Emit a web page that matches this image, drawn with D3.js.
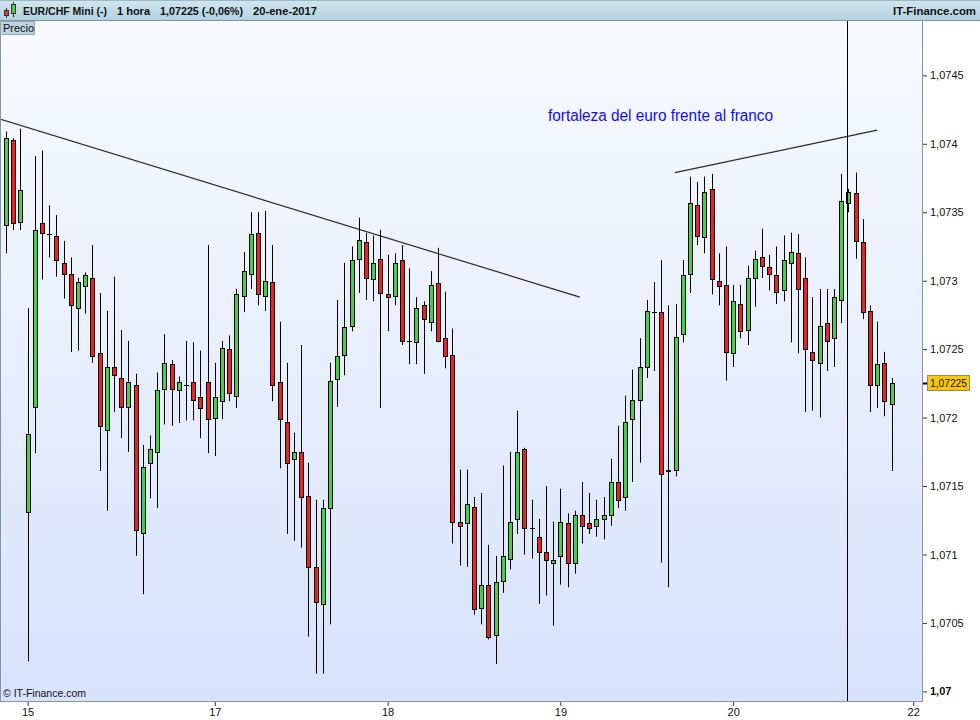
<!DOCTYPE html>
<html><head><meta charset="utf-8">
<script src="https://cdn.jsdelivr.net/npm/d3@7"></script>
<style>html,body{margin:0;padding:0;background:#fff}svg{display:block}text{font-family:"Liberation Sans",Arial,sans-serif}</style>
</head><body><svg id="c" width="980" height="720"></svg>
<script>
const open=[1.07341,1.07403,1.07343,1.07131,1.07208,1.07342,1.07334,1.07333,1.07313,1.07305,1.07280,1.07296,1.07302,1.07247,1.07191,1.07237,1.07229,1.07208,1.07224,1.07116,1.07167,1.07175,1.07221,1.07239,1.07220,1.07224,1.07226,1.07215,1.07226,1.07200,1.07212,1.07250,1.07216,1.07289,1.07305,1.07335,1.07289,1.07299,1.07226,1.07197,1.07170,1.07175,1.07143,1.07091,1.07064,1.07134,1.07228,1.07246,1.07267,1.07316,1.07328,1.07301,1.07316,1.07290,1.07289,1.07315,1.07256,1.07255,1.07282,1.07270,1.07298,1.07258,1.07246,1.07124,1.07123,1.07135,1.07061,1.07078,1.07041,1.07081,1.07097,1.07126,1.07177,1.07119,1.07113,1.07102,1.07094,1.07099,1.07123,1.07094,1.07129,1.07123,1.07121,1.07126,1.07129,1.07153,1.07142,1.07199,1.07213,1.07237,1.07277,1.07277,1.07161,1.07162,1.07261,1.07305,1.07355,1.07332,1.07367,1.07300,1.07297,1.07247,1.07283,1.07264,1.07302,1.07317,1.07310,1.07304,1.07293,1.07313,1.07320,1.07302,1.07248,1.07240,1.07269,1.07258,1.07286,1.07357,1.07364,1.07328,1.07278,1.07224,1.07240,1.07210];
const high=[1.07409,1.07404,1.07411,1.07280,1.07391,1.07395,1.07355,1.07348,1.07329,1.07317,1.07302,1.07306,1.07326,1.07291,1.07278,1.07303,1.07264,1.07256,1.07232,1.07180,1.07187,1.07233,1.07261,1.07242,1.07230,1.07256,1.07255,1.07249,1.07326,1.07240,1.07256,1.07260,1.07294,1.07321,1.07350,1.07350,1.07351,1.07326,1.07270,1.07240,1.07189,1.07253,1.07167,1.07140,1.07140,1.07240,1.07286,1.07313,1.07325,1.07346,1.07335,1.07333,1.07337,1.07319,1.07320,1.07326,1.07309,1.07288,1.07285,1.07307,1.07324,1.07292,1.07265,1.07162,1.07162,1.07142,1.07145,1.07107,1.07099,1.07165,1.07175,1.07205,1.07178,1.07140,1.07126,1.07150,1.07124,1.07148,1.07130,1.07132,1.07153,1.07145,1.07140,1.07142,1.07170,1.07194,1.07216,1.07235,1.07258,1.07286,1.07299,1.07315,1.07282,1.07283,1.07315,1.07376,1.07372,1.07376,1.07378,1.07320,1.07325,1.07297,1.07297,1.07311,1.07322,1.07338,1.07319,1.07325,1.07333,1.07335,1.07334,1.07317,1.07288,1.07294,1.07294,1.07294,1.07378,1.07367,1.07379,1.07345,1.07282,1.07270,1.07248,1.07229];
const low=[1.07320,1.07337,1.07337,1.07022,1.07174,1.07301,1.07317,1.07303,1.07287,1.07248,1.07249,1.07276,1.07240,1.07161,1.07132,1.07204,1.07185,1.07175,1.07099,1.07071,1.07141,1.07134,1.07195,1.07194,1.07196,1.07198,1.07198,1.07185,1.07174,1.07172,1.07199,1.07212,1.07207,1.07277,1.07294,1.07282,1.07278,1.07212,1.07163,1.07115,1.07110,1.07105,1.07040,1.07013,1.07013,1.07049,1.07208,1.07231,1.07263,1.07291,1.07286,1.07285,1.07207,1.07263,1.07282,1.07253,1.07239,1.07239,1.07232,1.07263,1.07255,1.07236,1.07108,1.07092,1.07091,1.07056,1.07049,1.07038,1.07020,1.07072,1.07089,1.07115,1.07100,1.07097,1.07064,1.07070,1.07048,1.07078,1.07076,1.07086,1.07108,1.07115,1.07113,1.07111,1.07121,1.07134,1.07132,1.07153,1.07167,1.07229,1.07234,1.07094,1.07076,1.07157,1.07255,1.07291,1.07326,1.07320,1.07290,1.07282,1.07227,1.07237,1.07258,1.07253,1.07281,1.07302,1.07293,1.07283,1.07285,1.07255,1.07247,1.07204,1.07205,1.07200,1.07234,1.07237,1.07269,1.07350,1.07316,1.07272,1.07204,1.07207,1.07201,1.07161];
const close=[1.07404,1.07342,1.07366,1.07188,1.07337,1.07335,1.07334,1.07315,1.07305,1.07282,1.07299,1.07304,1.07245,1.07194,1.07237,1.07231,1.07208,1.07226,1.07118,1.07164,1.07177,1.07220,1.07240,1.07221,1.07226,1.07224,1.07213,1.07207,1.07199,1.07215,1.07251,1.07218,1.07290,1.07307,1.07334,1.07290,1.07300,1.07224,1.07199,1.07167,1.07175,1.07142,1.07091,1.07065,1.07134,1.07227,1.07245,1.07266,1.07315,1.07330,1.07302,1.07313,1.07291,1.07288,1.07313,1.07256,1.07256,1.07280,1.07272,1.07297,1.07256,1.07245,1.07124,1.07121,1.07137,1.07060,1.07078,1.07040,1.07080,1.07099,1.07124,1.07175,1.07119,1.07119,1.07102,1.07096,1.07096,1.07124,1.07094,1.07129,1.07121,1.07119,1.07126,1.07129,1.07153,1.07140,1.07197,1.07213,1.07237,1.07278,1.07277,1.07159,1.07162,1.07259,1.07304,1.07357,1.07333,1.07365,1.07301,1.07296,1.07248,1.07285,1.07263,1.07302,1.07316,1.07311,1.07305,1.07292,1.07315,1.07321,1.07294,1.07250,1.07242,1.07267,1.07256,1.07288,1.07358,1.07365,1.07329,1.07277,1.07224,1.07239,1.07212,1.07225];
const dayTickIndex=[4,30,54,78,102,127];
const dayTickLabels=["15","17","18","19","20","22"];
const yTicks=[1.07,1.0705,1.071,1.0715,1.072,1.0725,1.073,1.0735,1.074,1.0745];
const trend1=[[0.17,1.07418],[80.7,1.07288]];
const trend2=[[93.9,1.07379],[122,1.07410]];
const markerIndex=118;
const lastPrice=1.07225;
const annotation="fortaleza del euro frente al franco";
const headerParts=[["EUR/CHF Mini (-)",23,84],["1 hora",117,33],["1,07225 (-0,06%)",160,83],["20-ene-2017",253,64]];

const svg=d3.select("#c");
const L=0,R=922,T=21,B=701;
const x=d3.scaleLinear().domain([1,124]).range([6,891.6]);
const y=d3.scaleLinear().domain([1.07,1.0745]).range([691.4,75.35]);
const fmt=v=>d3.format(".5~f")(v).replace(".",",");

const defs=svg.append("defs");
const g1=defs.append("linearGradient").attr("id","bg").attr("x1",0).attr("y1",0).attr("x2",0).attr("y2",1);
g1.append("stop").attr("offset","0").attr("stop-color","#f8faff");
g1.append("stop").attr("offset","1").attr("stop-color","#d7e3fb");
const g2=defs.append("linearGradient").attr("id","hd").attr("x1",0).attr("y1",0).attr("x2",0).attr("y2",1);
g2.append("stop").attr("offset","0").attr("stop-color","#d3e6ef");
g2.append("stop").attr("offset","1").attr("stop-color","#b2d1e0");
defs.append("clipPath").attr("id","clip").append("rect").attr("x",L+1).attr("y",T).attr("width",R-L-1).attr("height",B-T);

// header
svg.append("rect").attr("x",0).attr("y",0).attr("width",980).attr("height",20).attr("fill","url(#hd)");
svg.append("line").attr("x1",0).attr("x2",980).attr("y1",20.5).attr("y2",20.5).attr("stroke","#7d97a6");
svg.append("line").attr("x1",0).attr("x2",980).attr("y1",0.5).attr("y2",0.5).attr("stroke","#9fb8c5");
// icon
svg.append("line").attr("x1",6.5).attr("x2",6.5).attr("y1",8).attr("y2",18).attr("stroke","#333");
svg.append("rect").attr("x",4.5).attr("y",10.5).attr("width",4).attr("height",5).attr("fill","#f03030").attr("stroke","#333");
svg.append("line").attr("x1",13.5).attr("x2",13.5).attr("y1",2).attr("y2",17).attr("stroke","#333");
svg.append("rect").attr("x",11.5).attr("y",4.5).attr("width",4).attr("height",9).attr("fill","#44d044").attr("stroke","#333");
headerParts.forEach(([t,px,w])=>svg.append("text").attr("x",px).attr("y",15).attr("font-size",11.5).attr("font-weight","bold")
  .attr("fill","#111").attr("textLength",w).attr("lengthAdjust","spacingAndGlyphs").text(t));
svg.append("text").attr("x",893).attr("y",15).attr("font-size",11.5).attr("font-weight","bold").attr("fill","#111")
  .attr("textLength",83).attr("lengthAdjust","spacingAndGlyphs").text("IT-Finance.com");

// plot bg
svg.append("rect").attr("x",L).attr("y",T).attr("width",R-L).attr("height",B-T).attr("fill","url(#bg)");
const plot=svg.append("g").attr("clip-path","url(#clip)");

// trendlines
[trend1,trend2].forEach(tl=>plot.append("line")
  .attr("x1",x(tl[0][0])).attr("y1",y(tl[0][1])).attr("x2",x(tl[1][0])).attr("y2",y(tl[1][1]))
  .attr("stroke","#2a2a2a").attr("stroke-width",1.2));

// candles
const data=open.map((o,i)=>({i:i+1,o,h:high[i],l:low[i],c:close[i]}));
const cg=plot.selectAll("g.k").data(data).join("g").attr("class","k");
cg.append("line")
  .attr("x1",d=>Math.round(x(d.i))+0.5).attr("x2",d=>Math.round(x(d.i))+0.5)
  .attr("y1",d=>y(d.h)).attr("y2",d=>y(d.l)).attr("stroke","#000").attr("stroke-width",1);
cg.filter(d=>d.o!==d.c).append("rect")
  .attr("x",d=>Math.round(x(d.i))-1.5).attr("width",4)
  .attr("y",d=>Math.round(y(Math.max(d.o,d.c)))+0.5)
  .attr("height",d=>Math.max(1,Math.round(y(Math.min(d.o,d.c)))-Math.round(y(Math.max(d.o,d.c)))))
  .attr("fill",d=>d.c>d.o?"#46d046":"#f02020").attr("stroke","#000").attr("stroke-width",1);
cg.filter(d=>d.o===d.c).append("line")
  .attr("x1",d=>Math.round(x(d.i))-2).attr("x2",d=>Math.round(x(d.i))+3)
  .attr("y1",d=>Math.round(y(d.o))+0.5).attr("y2",d=>Math.round(y(d.o))+0.5)
  .attr("stroke","#000").attr("stroke-width",1);

// vertical marker
plot.append("line").attr("x1",Math.round(x(markerIndex))-0.5).attr("x2",Math.round(x(markerIndex))-0.5)
  .attr("y1",T).attr("y2",B).attr("stroke","#000").attr("stroke-width",1);

// annotation
svg.append("text").attr("x",548).attr("y",121).attr("font-size",16).attr("fill","#1010ee")
  .attr("textLength",225).attr("lengthAdjust","spacingAndGlyphs").text(annotation);

// borders
svg.append("line").attr("x1",0.5).attr("x2",0.5).attr("y1",T).attr("y2",B).attr("stroke","#7f97a6");
svg.append("line").attr("x1",R+0.5).attr("x2",R+0.5).attr("y1",T).attr("y2",B+1).attr("stroke","#7f97a6");
svg.append("line").attr("x1",0).attr("x2",R+1).attr("y1",B+0.5).attr("y2",B+0.5).attr("stroke","#7f97a6");

// Precio box
svg.append("rect").attr("x",0.5).attr("y",21.5).attr("width",34).attr("height",13).attr("fill","#bcd3e1").attr("stroke","#8fa6b3");
svg.append("text").attr("x",3).attr("y",32).attr("font-size",11).attr("fill","#111").text("Precio");

// right axis
const ya=svg.append("g").attr("transform",`translate(${R+1},0)`)
  .call(d3.axisRight(y).tickValues(yTicks).tickFormat(fmt).tickSize(4).tickPadding(3));
ya.select(".domain").remove();
ya.selectAll("line").attr("stroke","#333");
ya.selectAll("text").attr("font-size",11).attr("fill","#111").style("font-family",'"Liberation Sans",Arial,sans-serif')
  .attr("font-weight",d=>d===1.07?"bold":"normal");

// last price label
const ly=Math.round(y(lastPrice));
svg.append("line").attr("x1",R+1).attr("x2",R+6).attr("y1",ly+0.5).attr("y2",ly+0.5).attr("stroke","#000").attr("stroke-width",2);
svg.append("rect").attr("x",927.5).attr("y",ly-7.5).attr("width",42).attr("height",15).attr("fill","#f9c80e").attr("stroke","#8a8a70");
svg.append("text").attr("x",930).attr("y",ly+4).attr("font-size",11).attr("fill","#111")
  .attr("textLength",37).attr("lengthAdjust","spacingAndGlyphs").text(fmt(lastPrice));

// bottom axis
const xa=svg.append("g").attr("transform",`translate(0,${B+1})`)
  .call(d3.axisBottom(x).tickValues(dayTickIndex).tickFormat((d,i)=>dayTickLabels[i]).tickSize(4).tickPadding(2));
xa.select(".domain").remove();
xa.selectAll("line").attr("stroke","#333");
xa.selectAll("text").attr("font-size",11).attr("fill","#111").style("font-family",'"Liberation Sans",Arial,sans-serif');

svg.append("text").attr("x",3).attr("y",697).attr("font-size",10.5).attr("fill","#111").text("© IT-Finance.com");
</script></body></html>
